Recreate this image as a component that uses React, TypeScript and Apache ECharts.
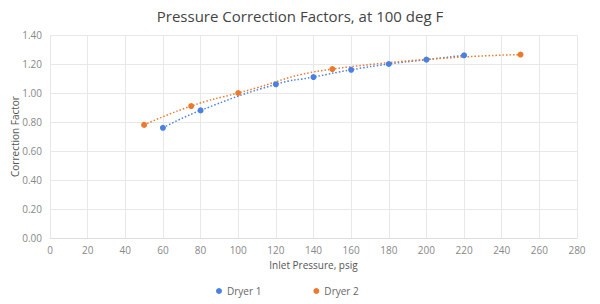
import React, { useEffect, useRef } from "react";
import * as echarts from "echarts";

const dryer1X = [60, 80, 120, 140, 160, 180, 200, 220];
const dryer1Y = [0.76, 0.88, 1.06, 1.11, 1.16, 1.2, 1.23, 1.26];
const dryer2X = [50, 75, 100, 150, 250];
const dryer2Y = [0.78, 0.91, 1.0, 1.165, 1.265];

const BLUE = "#4a80e0";
const ORANGE = "#ec7a2e";
const FONT = "Open Sans";

export default function App() {
  const ref = useRef<HTMLDivElement>(null);
  useEffect(() => {
    if (!ref.current) return;
    const chart = echarts.init(ref.current, undefined, { renderer: "svg" });
    const toPairs = (xs: number[], ys: number[]) => xs.map((x, i) => [x, ys[i]]);
    chart.setOption({
      animation: false,
      textStyle: { fontFamily: FONT },
      title: {
        text: "Pressure Correction Factors, at 100 deg F",
        left: "center",
        top: 3,
        textStyle: { fontFamily: FONT, fontSize: 15, fontWeight: "normal", color: "#444" },
      },
      grid: { left: 50, right: 23, top: 35, bottom: 66, containLabel: false, outerBoundsMode: "none" },
      legend: {
        bottom: 3,
        left: 211,
        icon: "circle",
        itemWidth: 6,
        itemHeight: 6,
        itemGap: 52,
        textStyle: { fontFamily: FONT, fontSize: 10, color: "#666" },
        data: ["Dryer 1", "Dryer 2"],
      },
      xAxis: {
        type: "value",
        min: 0,
        max: 280,
        interval: 20,
        name: "Inlet Pressure, psig",
        nameLocation: "middle",
        nameGap: 22,
        nameMoveOverlap: false,
        nameTextStyle: { fontFamily: FONT, fontSize: 10, color: "#555" },
        axisLine: { show: true, lineStyle: { color: "#ddd" } },
        axisTick: { show: false },
        axisLabel: { fontFamily: FONT, fontSize: 10, color: "#888", margin: 7 },
        splitLine: { show: true, lineStyle: { color: "#e8e8e8" } },
      },
      yAxis: {
        type: "value",
        min: 0,
        max: 1.4,
        interval: 0.2,
        name: "Correction Factor",
        nameLocation: "middle",
        nameGap: 30,
        nameMoveOverlap: false,
        nameTextStyle: { fontFamily: FONT, fontSize: 10, color: "#555" },
        axisLine: { show: false },
        axisTick: { show: false },
        axisLabel: {
          fontFamily: FONT,
          fontSize: 10,
          color: "#888",
          margin: 8,
          formatter: (v: number) => v.toFixed(2),
        },
        splitLine: { show: true, lineStyle: { color: "#e8e8e8" } },
      },
      series: [
        {
          name: "Dryer 1",
          type: "line",
          smooth: true,
          data: toPairs(dryer1X, dryer1Y),
          symbol: "circle",
          symbolSize: 6,
          itemStyle: { color: BLUE },
          lineStyle: { color: BLUE, width: 1.5, type: [1.5, 2] },
        },
        {
          name: "Dryer 2",
          type: "line",
          smooth: true,
          data: toPairs(dryer2X, dryer2Y),
          symbol: "circle",
          symbolSize: 6,
          itemStyle: { color: ORANGE },
          lineStyle: { color: ORANGE, width: 1.5, type: [1.5, 2] },
        },
      ],
    });
    return () => chart.dispose();
  }, []);
  return <div ref={ref} style={{ width: 600, height: 304, position: "absolute", left: 0, top: 0 }} />;
}
